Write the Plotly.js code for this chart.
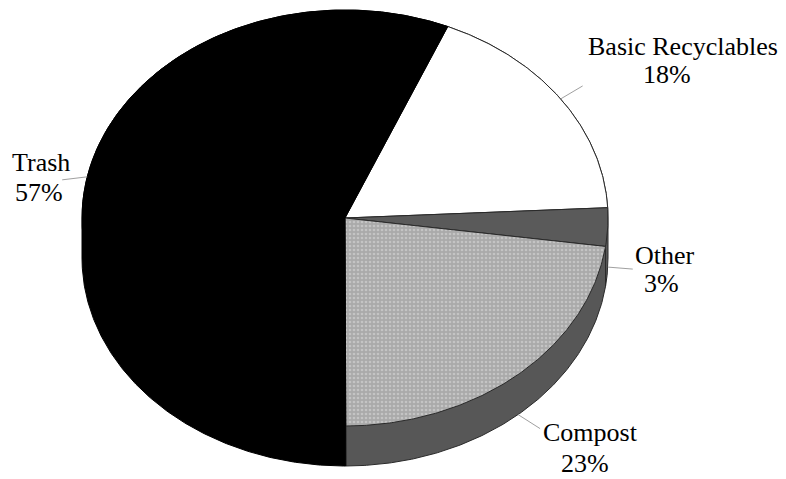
<!DOCTYPE html>
<html>
<head>
<meta charset="utf-8">
<script src="https://cdn.plot.ly/plotly-3.0.1.min.js"></script>
<style>html,body{margin:0;padding:0;background:#fff;}#chart{width:786px;height:479px;}</style>
</head>
<body>
<div id="chart"></div>
<script>
// ---- data ----
const labels = ['Basic Recyclables', 'Other', 'Compost', 'Trash'];
const values = [18, 3, 23, 57];
const pctLabels = ['18%', '3%', '23%', '57%'];

// ---- style ----
const topColors = ['#ffffff', '#5a5a5a', '#ababab', '#000000'];
const sideColors = ['#ffffff', '#5a5a5a', '#575757', '#000000'];
const edgeColors = ['#2a2a2a', '#2a2a2a', '#2a2a2a', '#000000'];
const START = 67;          // degrees, first slice starts here, going clockwise
const W = 786, H = 479;
const CX = 345, CY = 218, R = 263;  // pixel centre / horizontal radius
const RY = 208 / R;        // tilt
const DEPTH = 40 / R;      // thickness

function px2x(p) { return (p - CX) / R; }
function px2y(p) { return (CY - p) / R; }
const rad = d => d * Math.PI / 180;

// label placement (pixels) and leader offsets (pixels)
const namePos = [[683, 46], [665, 255], [590, 432], [41, 162]];
const pctPos = [[667, 74], [661.5, 283], [585, 479], [39, 192]];
const pctAnchor = ['middle', 'middle', 'bottom', 'middle'];
const leaderOff = [[22, -13], [25, 2], [22, 14], [-25, 3]];

const total = values.reduce((a, b) => a + b, 0);
const sils = [], tops = [], leaders = [];
let a = START;
const ranges = [];
values.forEach((v, i) => {
  const span = v / total * 360;
  const a0 = a, a1 = a - span;
  ranges.push([a1, a0]);
  a = a1;
});

function arc(from, to, dy) {
  const xs = [], ys = [];
  const n = Math.max(2, Math.ceil(Math.abs(to - from) * 2));
  for (let k = 0; k <= n; k++) {
    const t = rad(from + (to - from) * k / n);
    xs.push(Math.cos(t)); ys.push(RY * Math.sin(t) + dy);
  }
  return [xs, ys];
}

ranges.forEach(([lo, hi], i) => {
  // silhouette = top face + visible side (sin < 0), walking from hi down to lo
  const brk = [hi];
  for (let m = Math.floor(hi / 180) * 180; m > lo; m -= 180) if (m < hi) brk.push(m);
  brk.push(lo);
  let sx = [0, Math.cos(rad(hi))], sy = [0, RY * Math.sin(rad(hi))];
  for (let j = 0; j < brk.length - 1; j++) {
    const mid = rad((brk[j] + brk[j + 1]) / 2);
    const dy = Math.sin(mid) < 0 ? -DEPTH : 0;
    const [xs, ys] = arc(brk[j], brk[j + 1], dy);
    sx = sx.concat(xs); sy = sy.concat(ys);
  }
  sx.push(Math.cos(rad(lo)), 0); sy.push(RY * Math.sin(rad(lo)), 0);
  sils.push({
    type: 'scatter', mode: 'lines', x: sx, y: sy,
    fill: 'toself', fillcolor: sideColors[i], line: { color: edgeColors[i], width: 1 },
    hoverinfo: 'skip', showlegend: false
  });
  const [ax, ay] = arc(hi, lo, 0);
  const top = {
    type: 'scatter', mode: 'lines', x: [0].concat(ax, [0]), y: [0].concat(ay, [0]),
    fill: 'toself', fillcolor: topColors[i], line: { color: edgeColors[i], width: 1 },
    name: labels[i], hoverinfo: 'skip', showlegend: false
  };
  if (labels[i] === 'Compost') {
    top.fillpattern = { shape: '.', bgcolor: '#aaaaaa', fgcolor: '#c4c4c4', size: 4, solidity: 0.35, fillmode: 'replace' };
  }
  tops.push(top);
  // leader line
  const m = rad((lo + hi) / 2);
  const px = Math.cos(m), py = RY * Math.sin(m) + (Math.sin(m) < 0 ? -DEPTH : 0);
  leaders.push({
    type: 'scatter', mode: 'lines',
    x: [px, px + leaderOff[i][0] / R], y: [py, py - leaderOff[i][1] / R],
    line: { color: '#a0a0a0', width: 1 }, hoverinfo: 'skip', showlegend: false
  });
});

const font = { family: 'Liberation Serif, Times New Roman, serif', size: 26, color: '#000' };
const annotations = [];
labels.forEach((l, i) => {
  annotations.push({ x: px2x(namePos[i][0]), y: px2y(namePos[i][1]), text: l, showarrow: false, font: font, xanchor: 'center', yanchor: 'middle', borderpad: 0 });
  annotations.push({ x: px2x(pctPos[i][0]), y: px2y(pctPos[i][1]), text: pctLabels[i], showarrow: false, font: font, xanchor: 'center', yanchor: pctAnchor[i], borderpad: 0 });
});

const layout = {
  width: W, height: H,
  margin: { l: 0, r: 0, t: 0, b: 0 },
  paper_bgcolor: '#fff', plot_bgcolor: '#fff',
  xaxis: { range: [px2x(0), px2x(W)], visible: false, fixedrange: true },
  yaxis: { range: [px2y(H), px2y(0)], visible: false, fixedrange: true },
  annotations: annotations,
  showlegend: false
};

Plotly.newPlot('chart', sils.concat(tops, leaders), layout, { staticPlot: true });
</script>
</body>
</html>
